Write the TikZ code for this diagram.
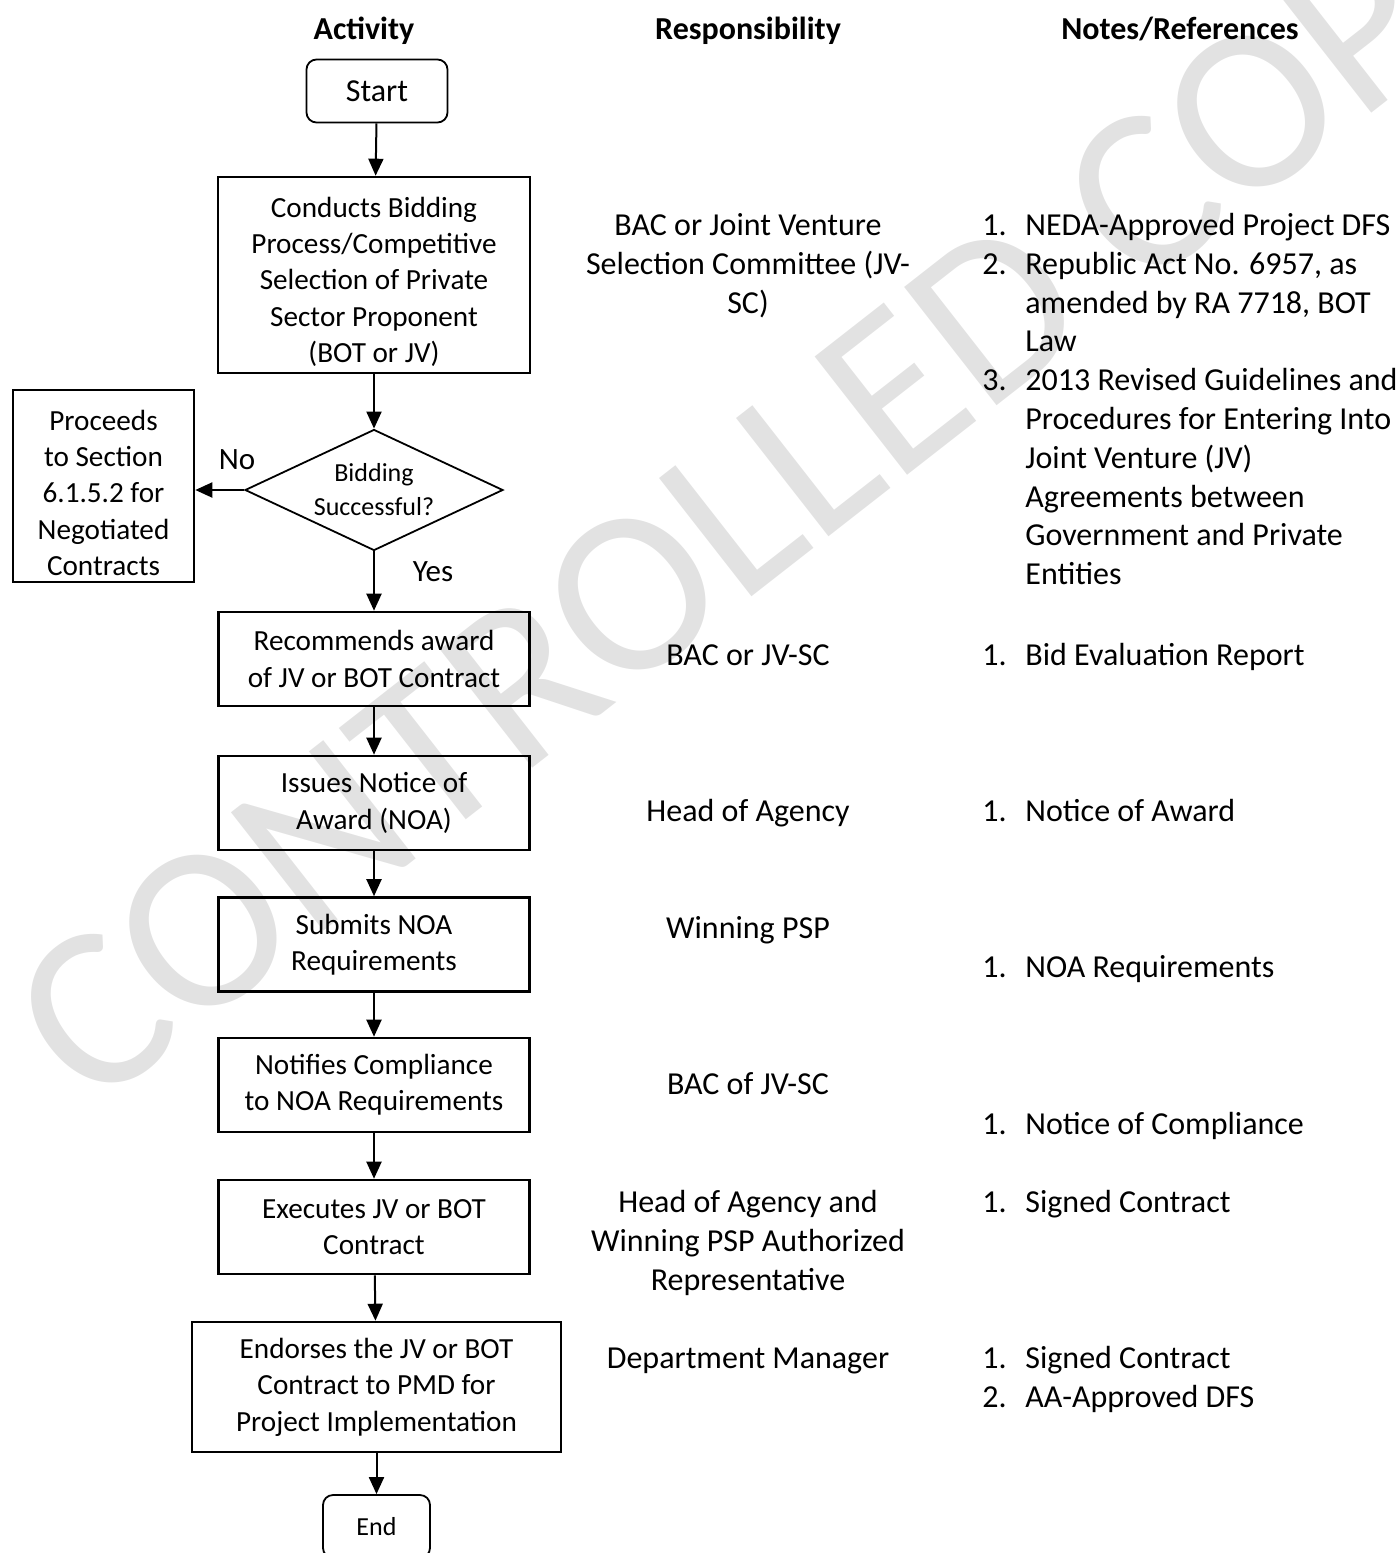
\documentclass[tikz,border=0pt]{standalone}
\usepackage{fontspec}
\setmainfont{Carlito}
\usetikzlibrary{shapes.geometric,arrows.meta}

\definecolor{wmgray}{RGB}{226,226,226}
\newcommand{\txtsize}{\fontsize{16}{19.4}\selectfont}
\newcommand{\boxsize}{\fontsize{14.6}{18.2}\selectfont}
\newcommand{\decsize}{\fontsize{13}{17}\selectfont}
\newcommand{\num}[1]{\makebox[21.5pt][l]{#1}}
\newcommand{\cont}{\hspace*{21.5pt}}
\newcommand{\padtop}{\rule{0pt}{17pt}}

\tikzset{
  activity/.style={draw, line width=1.3pt, align=center, inner sep=0pt, font=\boxsize},
  terminal/.style={draw, line width=0.9pt, rounded corners=5pt, inner sep=0pt, minimum height=31.5pt, font=\txtsize},
  decision/.style={diamond, aspect=2.1, draw, line width=0.9pt, align=center, inner sep=0pt, minimum width=129pt, minimum height=60.5pt, font=\decsize},
  flow/.style={-{Triangle[length=8.5pt,width=7.5pt]}, line width=1pt},
  colhead/.style={anchor=base, font=\bfseries\txtsize},
  resp/.style={align=center, anchor=north, inner sep=0pt, font=\txtsize},
  note/.style={align=left, anchor=north west, inner sep=0pt, font=\txtsize},
  lbl/.style={inner sep=0pt, font=\fontsize{15.5}{18}\selectfont},
  watermark/.style={text=wmgray, rotate=38, anchor=base, inner sep=0pt, font=\fontsize{117}{117}\selectfont}
}

\begin{document}
\begin{tikzpicture}[x=0.5pt, y=-0.5pt]
  \useasboundingbox (0,0) rectangle (1398,1553);

  % watermark
  \node[watermark] (wm) at (817,546) {CONTROLLED COPY};

  % column heads
  \node[colhead] (hact) at (364,39) {Activity};
  \node[colhead] (hresp) at (748,39) {Responsibility};
  \node[colhead] (hnote) at (1180,39) {Notes/References};

  % activities
  \node[terminal, minimum width=70.5pt] (start) at (377,91) {Start};
  \node[activity, minimum width=156pt, minimum height=98pt] (conduct) at (374,275)
    {\padtop Conducts Bidding\\Process/Competitive\\Selection of Private\\Sector Proponent\\(BOT or JV)};
  \node[decision] (bidok) at (374,490) {Bidding\\Successful?};
  \node[activity, minimum width=90.5pt, minimum height=96pt] (proceed) at (103.5,486)
    {\padtop Proceeds\\to Section\\6.1.5.2 for\\Negotiated\\Contracts};
  \node[activity, minimum width=155.5pt, minimum height=47pt] (recommend) at (374,659)
    {Recommends award\\of JV or BOT Contract};
  \node[activity, minimum width=155.5pt, minimum height=47pt] (issue) at (374,803)
    {Issues Notice of\\Award (NOA)};
  \node[activity, minimum width=155.5pt, minimum height=47pt] (submit) at (374,944.5)
    {Submits NOA\\Requirements};
  \node[activity, minimum width=155.5pt, minimum height=47pt] (notify) at (374,1085)
    {Notifies Compliance\\to NOA Requirements};
  \node[activity, minimum width=155.5pt, minimum height=47pt] (execute) at (374,1227)
    {Executes JV or BOT\\Contract};
  \node[activity, minimum width=184.5pt, minimum height=65pt] (endorse) at (376.5,1387)
    {Endorses the JV or BOT\\Contract to PMD for\\Project Implementation};
  \node[terminal, minimum width=53.5pt, font=\decsize] (finish) at (376.5,1526.5) {End};

  % connectors
  \draw[flow] (start) -- (conduct);
  \draw[flow] (conduct) -- (bidok);
  \draw[flow] (bidok.west) -- (bidok.west -| proceed.east);
  \draw[flow] (bidok) -- (recommend);
  \draw[flow] (recommend) -- (issue);
  \draw[flow] (issue) -- (submit);
  \draw[flow] (submit) -- (notify);
  \draw[flow] (notify) -- (execute);
  \draw[flow] (execute) -- (endorse);
  \draw[flow] (endorse) -- (finish);
  \node[lbl] (lblno) at (237,460) {No};
  \node[lbl] (lblyes) at (433,572) {Yes};

  % responsibility
  \node[resp] (r1) at (748,208) {\strut BAC or Joint Venture\\Selection Committee (JV-\\SC)};
  \node[resp] (r2) at (748,638) {\strut BAC or JV-SC};
  \node[resp] (r3) at (748,794) {\strut Head of Agency};
  \node[resp] (r4) at (748,911) {\strut Winning PSP};
  \node[resp] (r5) at (748,1067) {\strut BAC of JV-SC};
  \node[resp] (r6) at (748,1185) {\strut Head of Agency and\\Winning PSP Authorized\\Representative};
  \node[resp] (r7) at (748,1341) {\strut Department Manager};

  % notes and references
  \node[note] (n1) at (982,208) {\strut\num{1.}NEDA-Approved Project DFS\\
    \num{2.}Republic Act No. 6957, as\\ \cont amended by RA 7718, BOT\\ \cont Law\\
    \num{3.}2013 Revised Guidelines and\\ \cont Procedures for Entering Into\\
    \cont Joint Venture (JV)\\ \cont Agreements between\\ \cont Government and Private\\ \cont Entities};
  \node[note] (n2) at (982,638) {\strut\num{1.}Bid Evaluation Report};
  \node[note] (n3) at (982,794) {\strut\num{1.}Notice of Award};
  \node[note] (n4) at (982,950) {\strut\num{1.}NOA Requirements};
  \node[note] (n5) at (982,1107) {\strut\num{1.}Notice of Compliance};
  \node[note] (n6) at (982,1185) {\strut\num{1.}Signed Contract};
  \node[note] (n7) at (982,1341) {\strut\num{1.}Signed Contract\\ \num{2.}AA-Approved DFS};
\end{tikzpicture}
\end{document}
